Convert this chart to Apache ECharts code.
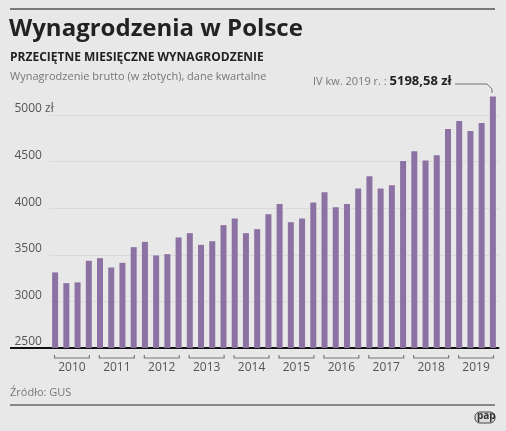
<!DOCTYPE html>
<html><head><meta charset="utf-8">
<script src="https://cdn.jsdelivr.net/npm/echarts@6/dist/echarts.min.js"></script>
<style>html,body{margin:0;padding:0;background:#e8e8e8}#c{width:506px;height:431px}</style>
</head><body><div id="c"></div>
<script>
var years = ['2010','2011','2012','2013','2014','2015','2016','2017','2018','2019'];
var quarters = [];
years.forEach(function(y){ ['I','II','III','IV'].forEach(function(q){ quarters.push(q+' '+y); }); });
var wages = [3311,3196,3204,3436, 3464,3364,3414,3582, 3639,3493,3507,3686, 3732,3607,3646,3818,
  3889,3732,3775,3936, 4046,3850,3889,4061, 4171,4011,4046,4211, 4343,4211,4246,4507,
  4611,4511,4568,4850, 4936,4829,4914,5198.58];
var yMin = 2500, yMax = 5250, yStep = 500;
var F = 'Open Sans, Noto Sans, sans-serif';
var chart = echarts.init(document.getElementById('c'));
chart.setOption({
  backgroundColor:'#e8e8e8',
  animation:false,
  grid:{left:49.5,right:7.5,top:91.7,bottom:83},
  xAxis:[
    {type:'category',data:quarters,axisLine:{lineStyle:{color:'#111',width:2}},axisTick:{show:false},axisLabel:{show:false}},
    {type:'category',data:years,position:'bottom',axisLine:{show:false},axisTick:{show:false},
     axisLabel:{margin:14,color:'#555',fontSize:12,fontFamily:F}}
  ],
  yAxis:{type:'value',min:yMin,max:yMax,interval:yStep,
    axisLine:{show:false},axisTick:{show:false},
    splitLine:{showMaxLine:false,lineStyle:{color:'#dadada',width:1}},
    axisLabel:{showMaxLabel:false,align:'left',margin:35,verticalAlign:'bottom',color:'#555',fontSize:12,fontFamily:F,
      formatter:function(v){return v===5000?'5000 zł':(v>5000?'':String(v));}}},
  series:[
    {type:'bar',data:wages,barWidth:6,itemStyle:{color:'#8c72a3'},z:3},
    {type:'custom',xAxisIndex:1,yAxisIndex:0,clip:false,data:years.map(function(y,i){return [i,yMin];}),
     renderItem:function(p,api){
       var pt=api.coord([api.value(0),yMin]);var w=api.size([1,0])[0];
       var x0=pt[0]-w/2+5,x1=pt[0]+w/2-5,y=pt[1]+10;
       return {type:'polyline',shape:{points:[[x0,y-3],[x0,y],[x1,y],[x1,y-3]]},style:{stroke:'#777',lineWidth:1.2,fill:null}};
     }}
  ],
  graphic:[
    {type:'line',shape:{x1:10,y1:9,x2:495,y2:9},style:{stroke:'#555',lineWidth:1.5}},
    {type:'line',shape:{x1:10,y1:348,x2:50,y2:348},style:{stroke:'#111',lineWidth:2}},
    {type:'text',left:9,top:17,style:{text:'Wynagrodzenia w Polsce',font:'bold 24px '+F,fill:'#222'}},
    {type:'text',left:10,top:52,style:{text:'PRZECIĘTNE MIESIĘCZNE WYNAGRODZENIE',font:'bold 12px '+F,fill:'#222'}},
    {type:'text',left:10,top:71,style:{text:'Wynagrodzenie brutto (w złotych), dane kwartalne',font:'11px '+F,fill:'#777'}},
    {type:'text',left:313,top:75,style:{rich:{a:{font:'11px '+F,fill:'#777'},b:{font:'bold 13px '+F,fill:'#222'}},text:'{a|IV kw. 2019 r. : }{b|5198,58 zł}'}},
    {type:'polyline',shape:{points:[[455,84],[487,84],[492,89],[492,93]]},style:{stroke:'#777',lineWidth:1,fill:null}},
    {type:'text',left:10,top:387,style:{text:'Źródło: GUS',font:'11px '+F,fill:'#777'}},
    {type:'line',shape:{x1:10,y1:405,x2:495,y2:405},style:{stroke:'#666',lineWidth:1.5}},
    {type:'rect',shape:{x:475,y:412,width:20,height:11,r:5},style:{fill:'#ddd',stroke:'#444',lineWidth:1}},
    {type:'text',left:477,top:411,style:{text:'pap',font:'bold 10px '+F,fill:'#333'}}
  ]
});
</script></body></html>
